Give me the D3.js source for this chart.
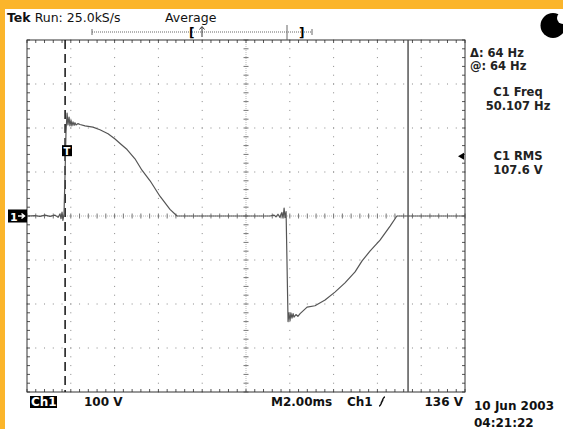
<!DOCTYPE html>
<html>
<head>
<meta charset="utf-8">
<script src="https://cdn.jsdelivr.net/npm/d3@7"></script>
<style>
  body { margin: 0; background: #fbb52b; }
  svg text { font-family: "DejaVu Sans", sans-serif; }
</style>
</head>
<body>
<div id="scope"></div>
<script>
// trace: time in ms from left edge, volts
const timeMs = [0, 0.37, 0.59, 0.82, 1.05, 1.28, 1.42, 1.51, 1.55, 1.60, 1.64, 1.69,
  1.74, 1.78, 1.83, 1.87, 1.92, 1.96, 2.01, 2.05, 2.10, 2.15, 2.19, 2.24, 2.33, 2.42, 2.65,
  3.01, 3.33, 3.70, 4.02, 4.29, 4.57, 4.93, 5.25, 5.62, 6.07, 6.53, 6.85,
  7.90, 9.73, 11.10,
  11.28, 11.37, 11.46, 11.55, 11.64, 11.69, 11.74, 11.78, 11.83,
  11.87, 11.92, 11.96, 12.01, 12.05, 12.10, 12.15, 12.19, 12.28, 12.37, 12.47, 12.79,
  13.15, 13.61, 14.06, 14.52, 14.98, 15.30, 15.66, 16.12, 16.58, 16.89, 20.0];
const volts = [0, 1, -1, 2, -1, 2, -3, 5, -6, 9, -10, 5,
  100, 190, 234, 207, 225, 205, 218, 205, 214, 206, 212, 207, 210, 208, 205,
  202, 196, 187, 175, 163, 151, 130, 104, 80, 45, 15, 0,
  0, 0, 0,
  2, -2, 4, -3, 8, -5, 18, -4, 10,
  -100, -240, -220, -238, -220, -232, -222, -230, -224, -228, -222, -207,
  -204, -191, -173, -152, -127, -102, -80, -55, -23, 0, 0];

const cursorTimes = [1.74, 17.4];   // dashed, solid
const triggerLevel = 136;
const headerLabels = ["Tek Run: 25.0kS/s", "Average"];
const readouts = ["Δ: 64 Hz", "@: 64 Hz", "C1 Freq", "50.107 Hz", "C1 RMS", "107.6 V"];
const footer = ["Ch1", "100 V", "M2.00ms", "Ch1", "136 V", "10 Jun 2003", "04:21:22"];

const W = 563, H = 429;
const svg = d3.select("#scope").append("svg")
  .attr("width", W).attr("height", H);

// white panel over orange frame
svg.append("rect").attr("x", 5).attr("y", 9).attr("width", W - 5).attr("height", H - 9)
  .attr("fill", "#fff");

const x = d3.scaleLinear().domain([0, 20]).range([27, 465]);
const y = d3.scaleLinear().domain([-400, 400]).range([392, 40]);

const g = svg.append("g");

// dotted graticule
const majorT = d3.range(2, 20, 2), majorV = d3.range(-300, 400, 100).filter(v => v !== 0);
const minorT = d3.range(0, 20.01, 0.4), minorV = d3.range(-400, 400.1, 20);
majorT.filter(t => t !== 10).forEach(t => {
  g.selectAll(null).data(minorV).join("rect")
    .attr("x", x(t) - 0.5).attr("y", v => y(v) - 0.5).attr("width", 1).attr("height", 1)
    .attr("fill", "#888");
});
majorV.forEach(v => {
  g.selectAll(null).data(minorT).join("rect")
    .attr("x", t => x(t) - 0.5).attr("y", y(v) - 0.5).attr("width", 1).attr("height", 1)
    .attr("fill", "#888");
});

// center axes
g.append("line").attr("x1", x(0)).attr("x2", x(20)).attr("y1", y(0)).attr("y2", y(0))
  .attr("stroke", "#bbb").attr("stroke-width", 1).attr("stroke-dasharray", "1,1");
g.append("line").attr("x1", x(10)).attr("x2", x(10)).attr("y1", y(400)).attr("y2", y(-400))
  .attr("stroke", "#bbb").attr("stroke-width", 1).attr("stroke-dasharray", "1,1");
g.selectAll(null).data(minorT).join("line")
  .attr("x1", t => x(t)).attr("x2", t => x(t))
  .attr("y1", y(0) - 2.5).attr("y2", y(0) + 2.5)
  .attr("stroke", "#777");
g.selectAll(null).data(minorV).join("line")
  .attr("y1", v => y(v)).attr("y2", v => y(v))
  .attr("x1", x(10) - 2.5).attr("x2", x(10) + 2.5)
  .attr("stroke", "#777");

// border ticks
g.selectAll(null).data(minorT).join("line")
  .attr("x1", t => x(t)).attr("x2", t => x(t)).attr("y1", y(400)).attr("y2", y(400) + 3)
  .attr("stroke", "#555");
g.selectAll(null).data(minorT).join("line")
  .attr("x1", t => x(t)).attr("x2", t => x(t)).attr("y1", y(-400)).attr("y2", y(-400) - 3)
  .attr("stroke", "#555");
g.selectAll(null).data(minorV).join("line")
  .attr("y1", v => y(v)).attr("y2", v => y(v)).attr("x1", x(0)).attr("x2", x(0) + 3)
  .attr("stroke", "#555");
g.selectAll(null).data(minorV).join("line")
  .attr("y1", v => y(v)).attr("y2", v => y(v)).attr("x1", x(20)).attr("x2", x(20) - 3)
  .attr("stroke", "#555");
g.append("rect").attr("x", x(0)).attr("y", y(400))
  .attr("width", x(20) - x(0)).attr("height", y(-400) - y(400))
  .attr("fill", "none").attr("stroke", "#333").attr("stroke-width", 1);

// cursors
g.append("line").attr("x1", x(cursorTimes[0])).attr("x2", x(cursorTimes[0]))
  .attr("y1", y(400)).attr("y2", y(-400))
  .attr("stroke", "#111").attr("stroke-width", 1.5).attr("stroke-dasharray", "9,5");
g.append("line").attr("x1", x(cursorTimes[1])).attr("x2", x(cursorTimes[1]))
  .attr("y1", y(400)).attr("y2", y(-400))
  .attr("stroke", "#555").attr("stroke-width", 1.5);

// trace
const line = d3.line().x(i => x(timeMs[i])).y(i => y(volts[i]));
g.append("path").attr("d", line(d3.range(timeMs.length)))
  .attr("fill", "none").attr("stroke", "#555").attr("stroke-width", 1.2)
  .attr("stroke-linejoin", "round");

// ground marker "1→"
svg.append("rect").attr("x", 8).attr("y", y(0) - 6.5).attr("width", 19).attr("height", 13)
  .attr("fill", "#000");
svg.append("text").attr("x", 10).attr("y", y(0) + 4.5).attr("fill", "#fff")
  .attr("font-size", 11).attr("font-weight", "bold").text("1");
svg.append("path").attr("d", `M18,${y(0)} H24 M21.5,${y(0) - 2.5} L24.5,${y(0)} L21.5,${y(0) + 2.5}`)
  .attr("stroke", "#fff").attr("stroke-width", 1.5).attr("fill", "none");

// trigger marker "T"
svg.append("rect").attr("x", 62).attr("y", y(triggerLevel) - 11).attr("width", 10).attr("height", 11)
  .attr("fill", "#000");
svg.append("text").attr("x", 67).attr("y", y(triggerLevel) - 1.5).attr("fill", "#fff")
  .attr("text-anchor", "middle").attr("font-size", 10).attr("font-weight", "bold").text("T");
// trigger level arrow on right edge
svg.append("path")
  .attr("d", `M${x(20) - 7},${y(triggerLevel)} L${x(20) - 1},${y(triggerLevel) - 3.5} L${x(20) - 1},${y(triggerLevel) + 3.5} Z`)
  .attr("fill", "#000");

// record view bar
const bar = svg.append("g").attr("stroke", "#666").attr("fill", "none");
bar.append("line").attr("x1", 92).attr("x2", 312).attr("y1", 32).attr("y2", 32)
  .attr("stroke-dasharray", "1,1");
bar.append("line").attr("x1", 92).attr("x2", 92).attr("y1", 29).attr("y2", 35);
bar.append("line").attr("x1", 312).attr("x2", 312).attr("y1", 29).attr("y2", 35);
bar.append("line").attr("x1", 287).attr("x2", 287).attr("y1", 25).attr("y2", 40);
svg.append("text").attr("x", 189).attr("y", 37).attr("font-size", 12).attr("font-weight", "bold").text("[");
svg.append("text").attr("x", 299).attr("y", 37).attr("font-size", 12).attr("font-weight", "bold").text("]");
svg.append("path").attr("d", "M202,27 V37 M199.5,29.5 L202,26.5 L204.5,29.5")
  .attr("stroke", "#333").attr("fill", "none");

// header
const head = svg.append("text").attr("x", 7).attr("y", 22).attr("font-size", 12.5).attr("fill", "#111");
head.append("tspan").attr("font-weight", "bold").text(headerLabels[0].slice(0, 3));
head.append("tspan").text(headerLabels[0].slice(3));
svg.append("text").attr("x", 165).attr("y", 22).attr("font-size", 12.5).attr("fill", "#111")
  .text(headerLabels[1]);

// logo circle
svg.append("circle").attr("cx", 553).attr("cy", 25.5).attr("r", 12.5).attr("fill", "#000");
svg.append("circle").attr("cx", 563).attr("cy", 18).attr("r", 6).attr("fill", "#fff");

// readouts
const ro = svg.append("g").attr("font-size", 11.5).attr("font-weight", "bold").attr("fill", "#222");
ro.append("text").attr("x", 470).attr("y", 57).text(readouts[0]);
ro.append("text").attr("x", 470).attr("y", 70).text(readouts[1]);
ro.append("text").attr("x", 518).attr("y", 96).attr("text-anchor", "middle").text(readouts[2]);
ro.append("text").attr("x", 518).attr("y", 110).attr("text-anchor", "middle").text(readouts[3]);
ro.append("text").attr("x", 518).attr("y", 160).attr("text-anchor", "middle").text(readouts[4]);
ro.append("text").attr("x", 518).attr("y", 174).attr("text-anchor", "middle").text(readouts[5]);

// footer
const ft = svg.append("g").attr("font-size", 12).attr("font-weight", "bold").attr("fill", "#111");
ft.append("rect").attr("x", 30).attr("y", 396).attr("width", 27).attr("height", 12).attr("fill", "#000");
ft.append("text").attr("x", 31).attr("y", 406).attr("fill", "#fff").text(footer[0]);
ft.append("text").attr("x", 84).attr("y", 406).text(footer[1]);
ft.append("text").attr("x", 271).attr("y", 406).text(footer[2]);
ft.append("text").attr("x", 347).attr("y", 406).text(footer[3]);
ft.append("path").attr("d", "M379,406 C382,406 382,397 385,397 M381,403 L383,400")
  .attr("stroke", "#111").attr("stroke-width", 1.4).attr("fill", "none");
ft.append("text").attr("x", 463).attr("y", 406).attr("text-anchor", "end").text(footer[4]);
ft.append("text").attr("x", 474).attr("y", 410).text(footer[5]);
ft.append("text").attr("x", 474).attr("y", 427).text(footer[6]);
</script>
</body>
</html>
